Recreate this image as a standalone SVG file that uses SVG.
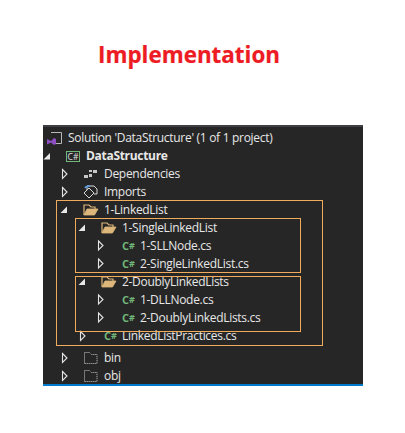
<svg xmlns="http://www.w3.org/2000/svg" width="405" height="433" viewBox="0 0 405 433">
<style>
text{font-family:"Open Sans","Noto Sans","Liberation Sans",sans-serif}
.t{font-size:12px;fill:#e8e8e8;letter-spacing:-.3px}
.b{fill:none;stroke:#f0ac5c;stroke-width:1}
.o{fill:#262626;stroke:#e4e4e4;stroke-width:1.1}
.f{fill:#e8e8e8}
.c{font-size:11px;font-weight:700;fill:#72b77a}
.s{font-size:9px}
.d{fill:none;stroke:#c8c8c8;stroke-width:1;stroke-dasharray:1 1}
</style>
<defs>
<path id="open" class="o" d="M0-4.500 4.500 0 0 4.500Z"/>
<path id="exp" class="f" d="M3-3.500V3H-3.500Z"/>
<g id="folder"><path d="M-6 5.500V-4.500H-1L1-2.500H5V-.5" fill="none" stroke="#dcb67a" stroke-width="1.200"/><path d="M-6 5.500H4.500L8-.5H-3Z" fill="#dcb67a" stroke="#dcb67a" stroke-width=".8"/></g>
<path id="dfolder" class="d" d="M-6 5.500V-5.500H-1L1-3.500H6.500V5.500Z"/>
</defs>
<rect width="405" height="433" fill="#fff"/>
<text x="189" y="62.500" text-anchor="middle" font-size="22.400" font-weight="700" fill="#ed1c24" stroke="#ed1c24" stroke-width=".2">Implementation</text>
<rect x="43" y="125" width="320" height="260" fill="#262626"/>
<rect x="43" y="125" width="320" height="2" fill="#3f3f46"/>
<rect x="43" y="384" width="320" height="2" fill="#007acc"/>
<g id="solution"><path d="M51 132.500H61.500V143.500H55" fill="none" stroke="#b8b8b8"/><path d="M47 139 51 141 54 138 56 139V144L54 145 51 142.500 47 144.500Z" fill="#8e4fc4"/><text class="t" x="68" y="142">Solution 'DataStructure' (1 of 1 project)</text></g>
<g id="project"><use href="#exp" x="47" y="156.500"/><rect x="66.500" y="151.500" width="13" height="10" fill="none" stroke="#72b77a"/><text x="73" y="159.500" text-anchor="middle" font-size="8.500" fill="#e0e0e0">C#</text><text class="t" x="86" y="160" font-weight="700">DataStructure</text></g>
<g id="dependencies"><use href="#open" x="62.500" y="174"/><path d="M84 175h4v3h-4zM89 170h3v2h-3zM93 170h4v3h-4zM89 174h3v3h-3z" fill="#c8c8c8"/><text class="t" x="104" y="178">Dependencies</text></g>
<g id="imports"><use href="#open" x="62.500" y="192"/><path d="M87 190V186H94L97 189V194H94" fill="none" stroke="#d8d8d8"/><path d="M84 193 89 188 94 193 89 198Z" fill="none" stroke="#d8d8d8"/><path d="M85 188c1-2 3-2 5-2" fill="none" stroke="#5aa0e8" stroke-width="1.500"/><text class="t" x="104" y="196">Imports</text></g>
<g id="linkedlist"><use href="#exp" x="64" y="210"/><use href="#folder" x="90" y="209.500"/><text class="t" x="104" y="214">1-LinkedList</text></g>
<g id="single"><use href="#exp" x="82" y="228"/><use href="#folder" x="108" y="227.500"/><text class="t" x="122" y="232">1-SingleLinkedList</text></g>
<g id="sllnode"><use href="#open" x="98.500" y="245.500"/><text class="c" x="122" y="250">C<tspan class="s" dy="-1">#</tspan></text><text class="t" x="140" y="250">1-SLLNode.cs</text></g>
<g id="singlelist"><use href="#open" x="98.500" y="263.500"/><text class="c" x="122" y="268">C<tspan class="s" dy="-1">#</tspan></text><text class="t" x="140" y="268">2-SingleLinkedList.cs</text></g>
<g id="doubly"><use href="#exp" x="82" y="282"/><use href="#folder" x="108" y="281.500"/><text class="t" x="122" y="286">2-DoublyLinkedLists</text></g>
<g id="dllnode"><use href="#open" x="98.500" y="299.500"/><text class="c" x="122" y="304">C<tspan class="s" dy="-1">#</tspan></text><text class="t" x="140" y="304">1-DLLNode.cs</text></g>
<g id="doublylist"><use href="#open" x="98.500" y="317.500"/><text class="c" x="122" y="322">C<tspan class="s" dy="-1">#</tspan></text><text class="t" x="140" y="322">2-DoublyLinkedLists.cs</text></g>
<g id="practices"><use href="#open" x="80.500" y="336"/><text class="c" x="104" y="340">C<tspan class="s" dy="-1">#</tspan></text><text class="t" x="122" y="340">LinkedListPractices.cs</text></g>
<g id="bin"><use href="#open" x="62.500" y="358"/><use href="#dfolder" x="90.500" y="358"/><text class="t" x="104" y="362">bin</text></g>
<g id="obj"><use href="#open" x="62.500" y="376"/><use href="#dfolder" x="90.500" y="376"/><text class="t" x="104" y="380">obj</text></g>
<g id="highlights">
<rect class="b" x="56.500" y="200.500" width="266" height="145"/>
<rect class="b" x="75.500" y="218.500" width="225" height="54"/>
<rect class="b" x="75.500" y="276.500" width="225" height="55"/>
</g>
</svg>
